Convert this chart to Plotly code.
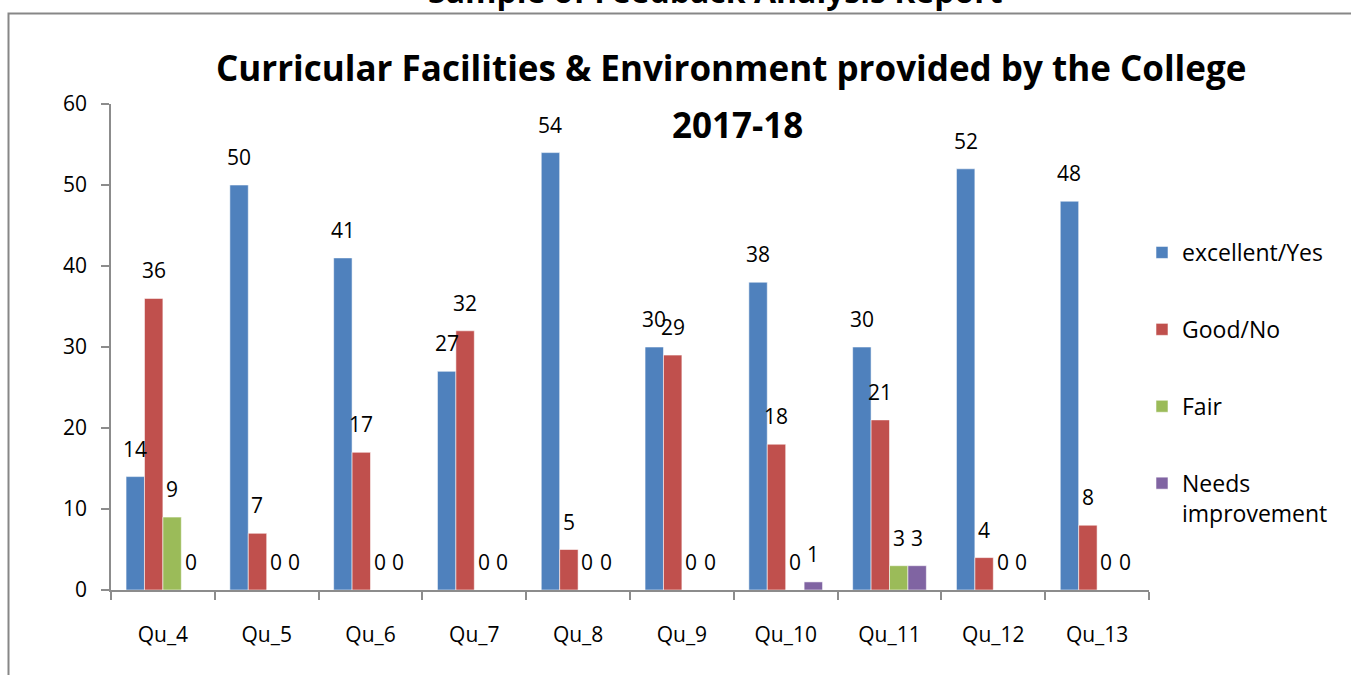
import plotly.graph_objects as go

categories = ["Qu_4", "Qu_5", "Qu_6", "Qu_7", "Qu_8", "Qu_9", "Qu_10", "Qu_11", "Qu_12", "Qu_13"]
excellent_yes = [14, 50, 41, 27, 54, 30, 38, 30, 52, 48]
good_no = [36, 7, 17, 32, 5, 29, 18, 21, 4, 8]
fair = [9, 0, 0, 0, 0, 0, 0, 3, 0, 0]
needs_improvement = [0, 0, 0, 0, 0, 0, 1, 3, 0, 0]

series_names = ["excellent/Yes", "Good/No", "Fair", "Needs<br>improvement"]
series_values = [excellent_yes, good_no, fair, needs_improvement]
colors = ["#4F81BD", "#C0504D", "#9BBB59", "#8064A2"]

FONT = "Open Sans"
FS = 21
W, H = 1351, 675
L, R, T, B = 111, 202, 104, 85
pw, ph = W - L - R, H - T - B

def px_x(p):
    return (p - L) / pw

def px_y(p):
    return (H - B - p) / ph

fig = go.Figure()
for i, (name, vals, col) in enumerate(zip(series_names, series_values, colors)):
    fig.add_trace(go.Bar(
        x=categories, y=vals, name=name,
        marker=dict(color=col, line=dict(color="rgba(255,255,255,0.55)", width=1)),
        legendgroup=f"g{i}",
    ))

bargap = 0.29
cat_w = pw / len(categories)
bar_w = cat_w * (1 - bargap) / 4
annotations = []
for i, vals in enumerate(series_values):
    shift = (i - 1.5) * bar_w
    for c, v in zip(categories, vals):
        annotations.append(dict(
            x=c, y=v, xref="x", yref="y", text=str(v), showarrow=False,
            xshift=shift, yshift=28, yanchor="middle",
            font=dict(family=FONT, size=FS, color="black"),
        ))

annotations.append(dict(
    x=px_x(731), y=px_y(68), xref="paper", yref="paper",
    text="<b>Curricular Facilities & Environment provided by the College</b>",
    showarrow=False, xanchor="center", yanchor="middle",
    font=dict(family=FONT, size=35, color="black"),
))
annotations.append(dict(
    x=px_x(737), y=px_y(124), xref="paper", yref="paper",
    text="<b>2017-18</b>",
    showarrow=False, xanchor="center", yanchor="middle",
    font=dict(family=FONT, size=35, color="black"),
))
annotations.append(dict(
    x=px_x(715), y=px_y(-10), xref="paper", yref="paper",
    text="<b>Sample of Feedback Analysis Report</b>",
    showarrow=False, xanchor="center", yanchor="middle",
    font=dict(family=FONT, size=32, color="black"),
))

fig.update_layout(
    width=W, height=H,
    margin=dict(l=L, r=R, t=T, b=B),
    paper_bgcolor="white", plot_bgcolor="white",
    barmode="group", bargap=bargap, bargroupgap=0,
    font=dict(family=FONT, size=FS, color="black"),
    showlegend=True,
    legend=dict(
        x=px_x(1142), y=px_y(231), xanchor="left", yanchor="top",
        font=dict(family=FONT, size=23, color="black"),
        traceorder="grouped", tracegroupgap=44, valign="top",
        itemwidth=30, bgcolor="rgba(0,0,0,0)",
    ),
    annotations=annotations,
    shapes=[dict(
        type="rect", xref="paper", yref="paper",
        x0=px_x(8.5), x1=px_x(1365), y0=px_y(13.5), y1=px_y(700),
        line=dict(color="#878787", width=2), fillcolor="rgba(0,0,0,0)",
        layer="below",
    )],
)

fig.update_xaxes(
    type="category", showline=True, linecolor="#8c8c8c", linewidth=1.5,
    ticks="outside", tickson="boundaries", ticklen=8, tickcolor="#8c8c8c",
    tickwidth=1.5, showgrid=False, zeroline=False,
    tickfont=dict(family=FONT, size=FS, color="black"),
    ticklabelstandoff=25,
)
fig.update_yaxes(
    range=[0, 60], dtick=10, showline=True, linecolor="#8c8c8c", linewidth=1.5,
    ticks="outside", ticklen=8, tickcolor="#8c8c8c", tickwidth=1.5,
    showgrid=False, zeroline=False,
    tickfont=dict(family=FONT, size=FS, color="black"),
    ticklabelstandoff=10,
)

fig.write_html(
    "out.html",
    config={"displayModeBar": False},
    post_script="document.body.style.margin='0';document.body.style.overflow='hidden';",
)
